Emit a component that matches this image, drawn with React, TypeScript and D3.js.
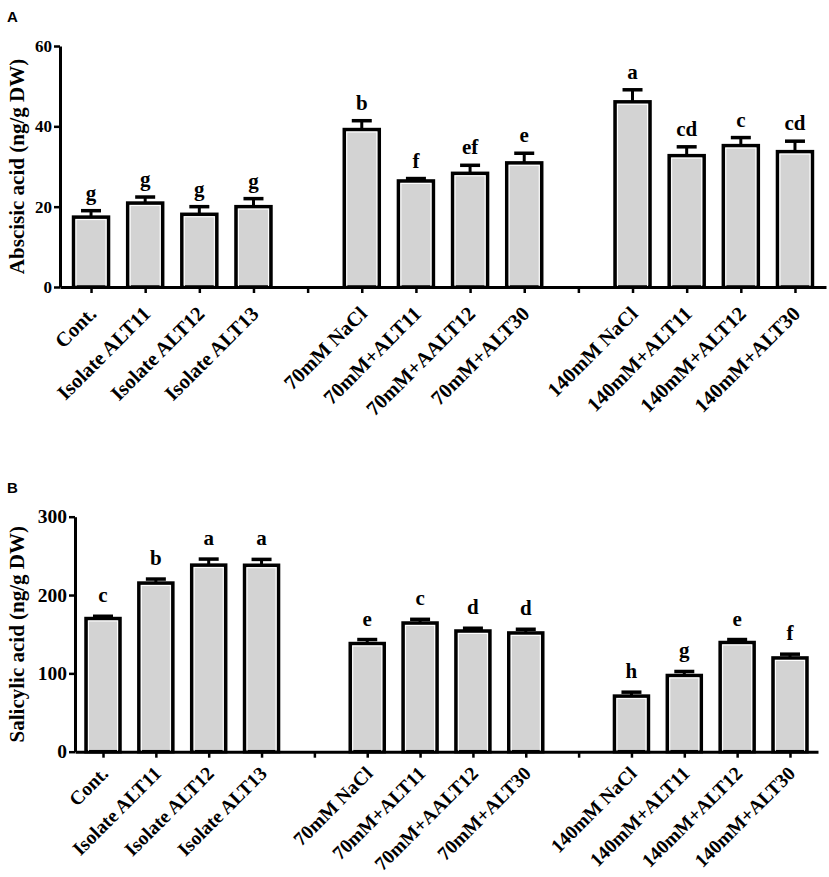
import * as d3 from "d3";
import { useEffect, useRef } from "react";

// 14 slots on the x axis: 3 groups of 4 treatments with an empty slot between groups
const categories = [
    "Cont.", "Isolate ALT11", "Isolate ALT12", "Isolate ALT13", "",
    "70mM NaCl", "70mM+ALT11", "70mM+AALT12", "70mM+ALT30", "",
    "140mM NaCl", "140mM+ALT11", "140mM+ALT12", "140mM+ALT30",
];

const abaValues = [17.4, 20.9, 18.1, 20.0, null, 39.2, 26.4, 28.3, 30.9, null, 46.1, 32.7, 35.2, 33.7];
const abaErrors = [1.6, 1.5, 1.9, 2.0, null, 2.2, 0.6, 2.0, 2.4, null, 3.0, 2.2, 2.0, 2.6];
const abaLetters = ["g", "g", "g", "g", "", "b", "f", "ef", "e", "", "a", "cd", "c", "cd"];
const abaTicks = [0, 20, 40, 60];

const saValues = [170, 215.3, 238.2, 238.0, null, 138.1, 164.3, 154.1, 151.6, null, 71.0, 97.3, 139.4, 119.7];
const saErrors = [2.9, 5.1, 7.7, 7.5, null, 5.1, 4.7, 3.5, 4.7, null, 5.0, 5.1, 3.8, 4.8];
const saLetters = ["c", "b", "a", "a", "", "e", "c", "d", "d", "", "h", "g", "e", "f"];
const saTicks = [0, 100, 200, 300];

const SERIF = "'Liberation Serif', 'Times New Roman', serif";

interface PanelProps {
    label: string;
    labelY: number;
    yTitle: string;
    values: (number | null)[];
    errors: (number | null)[];
    letters: string[];
    ticks: number[];
    tickFont: number;
    catFont: number;
    left: number;
    right: number;
    top: number;
    bottom: number;
    padding: number;
    barWidth: number;
    letterGap: number;
    labelShift: [number, number];
}

function Panel(props: PanelProps) {
    const gRef = useRef<SVGGElement | null>(null);

    useEffect(() => {
        if (!gRef.current) return;
        const { values, errors, letters, ticks, left, right, top, bottom, padding, barWidth, letterGap } = props;
        const g = d3.select(gRef.current);
        g.selectAll("*").remove();

        const x = d3.scalePoint<number>()
            .domain(d3.range(categories.length))
            .range([left, right])
            .padding(padding);
        const y = d3.scaleLinear()
            .domain([0, ticks[ticks.length - 1]])
            .range([bottom, top]);

        const bars = values
            .map((v, i) => ({ i, v, e: errors[i], l: letters[i] }))
            .filter(d => d.v !== null) as { i: number; v: number; e: number; l: string }[];

        const bw = barWidth;

        // error whiskers (only the upper half shows above the bar)
        g.selectAll(".err")
            .data(bars)
            .join("line")
            .attr("x1", d => x(d.i)!)
            .attr("x2", d => x(d.i)!)
            .attr("y1", d => y(d.v))
            .attr("y2", d => y(d.v + d.e))
            .attr("stroke", "#000")
            .attr("stroke-width", 3);

        g.selectAll(".cap")
            .data(bars)
            .join("line")
            .attr("x1", d => x(d.i)! - 10)
            .attr("x2", d => x(d.i)! + 10)
            .attr("y1", d => y(d.v + d.e))
            .attr("y2", d => y(d.v + d.e))
            .attr("stroke", "#000")
            .attr("stroke-width", 3.5);

        g.selectAll(".bar")
            .data(bars)
            .join("rect")
            .attr("x", d => x(d.i)! - bw / 2)
            .attr("y", d => y(d.v))
            .attr("width", bw)
            .attr("height", d => y(0) - y(d.v))
            .attr("fill", "#d3d3d3")
            .attr("stroke", "#000")
            .attr("stroke-width", 3.5);

        // thin white highlight inside the border
        g.selectAll(".inner")
            .data(bars)
            .join("rect")
            .attr("x", d => x(d.i)! - bw / 2 + 2.5)
            .attr("y", d => y(d.v) + 2.5)
            .attr("width", bw - 5)
            .attr("height", d => Math.max(0, y(0) - y(d.v) - 2.5))
            .attr("fill", "none")
            .attr("stroke", "#fff")
            .attr("stroke-width", 1);

        g.selectAll(".letter")
            .data(bars)
            .join("text")
            .attr("x", d => x(d.i)!)
            .attr("y", d => y(d.v + d.e) - letterGap)
            .attr("text-anchor", "middle")
            .attr("font-family", SERIF)
            .attr("font-weight", "bold")
            .attr("font-size", 21)
            .text(d => d.l);

        // axes
        const yAxis = g.append("g")
            .attr("transform", `translate(${left},0)`)
            .call(d3.axisLeft(y).tickValues(ticks).tickSize(6).tickSizeOuter(0).tickPadding(2));
        yAxis.select(".domain").attr("stroke-width", 3);
        yAxis.selectAll(".tick line").attr("stroke-width", 2.5);
        yAxis.selectAll(".tick text")
            .attr("font-family", SERIF)
            .attr("font-weight", "bold")
            .attr("font-size", props.tickFont)
            .attr("fill", "#000");

        const [sx, sy] = props.labelShift;
        const xAxis = g.append("g")
            .attr("transform", `translate(0,${bottom})`)
            .call(d3.axisBottom(x).tickSize(6).tickSizeOuter(0).tickFormat(i => categories[i as number]));
        xAxis.select(".domain").attr("stroke-width", 3);
        xAxis.selectAll(".tick line").attr("stroke-width", 2.5);
        xAxis.selectAll(".tick text")
            .attr("font-family", SERIF)
            .attr("font-weight", "bold")
            .attr("font-size", props.catFont)
            .attr("fill", "#000")
            .attr("x", 0)
            .attr("y", 0)
            .attr("dy", 0)
            .attr("transform", `translate(${sx},${sy}) rotate(-45)`)
            .style("text-anchor", "end");

        // y title
        g.append("text")
            .attr("transform", `translate(17,${(top + bottom) / 2}) rotate(-90)`)
            .attr("text-anchor", "middle")
            .attr("dy", "0.35em")
            .attr("font-family", SERIF)
            .attr("font-weight", "bold")
            .attr("font-size", 21)
            .text(props.yTitle);

        g.append("text")
            .attr("x", 7)
            .attr("y", props.labelY)
            .attr("font-family", "'Liberation Sans', Arial, sans-serif")
            .attr("font-weight", "bold")
            .attr("font-size", 15)
            .text(props.label);
    }, [props]);

    return <g ref={gRef} />;
}

export default function App() {
    return (
        <svg
            width={829}
            height={877}
            style={{ position: "absolute", left: 0, top: 0, background: "#fff" }}
        >
            <Panel
                label="A"
                labelY={22}
                yTitle="Abscisic acid (ng/g DW)"
                values={abaValues}
                errors={abaErrors}
                letters={abaLetters}
                ticks={abaTicks}
                tickFont={17}
                catFont={20.5}
                left={60}
                right={826}
                top={46}
                bottom={287}
                padding={0.573}
                barWidth={35}
                letterGap={11}
                labelShift={[6, 28]}
            />
            <Panel
                label="B"
                labelY={493}
                yTitle="Salicylic acid (ng/g DW)"
                values={saValues}
                errors={saErrors}
                letters={saLetters}
                ticks={saTicks}
                tickFont={19.5}
                catFont={19.5}
                left={75}
                right={818}
                top={516.7}
                bottom={751.7}
                padding={0.53}
                barWidth={34}
                letterGap={14}
                labelShift={[6, 23]}
            />
        </svg>
    );
}
